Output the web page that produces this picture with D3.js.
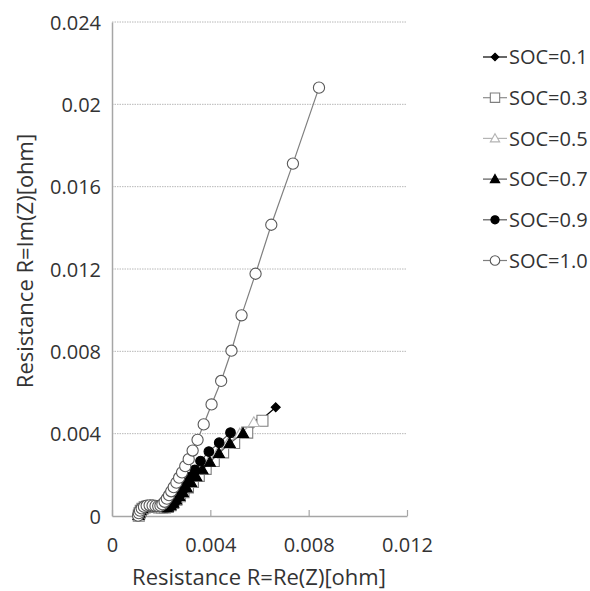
<!DOCTYPE html>
<html>
<head>
<meta charset="utf-8">
<script src="https://cdn.jsdelivr.net/npm/d3@7"></script>
<style>
  body { margin: 0; background: #fff; }
  text { font-family: "Open Sans", "Noto Sans", sans-serif; fill: #333; }
</style>
</head>
<body>
<svg id="chart" width="590" height="591"></svg>
<script>
// Nyquist data: [Re(Z), Im(Z)] in ohm
var soc01 = [[0.00110,0.00001],[0.00113,0.00012],[0.00118,0.00024],[0.00125,0.00034],[0.00134,0.00041],[0.00145,0.00045],[0.00157,0.00046],[0.00169,0.00045],[0.00181,0.00043],[0.00193,0.00041],[0.00205,0.00040],[0.00216,0.00040],[0.00227,0.00045],[0.00238,0.00053],[0.00249,0.00065],[0.00262,0.00080],[0.00276,0.00097],[0.00291,0.00117],[0.00309,0.00140],[0.00329,0.00166],[0.00353,0.00196],[0.00381,0.00230],[0.00414,0.00268],[0.00452,0.00310],[0.00497,0.00356],[0.00548,0.00407],[0.00605,0.00465],[0.00666,0.00528]];
var soc03 = [[0.00109,0.00002],[0.00112,0.00013],[0.00117,0.00025],[0.00124,0.00035],[0.00133,0.00042],[0.00144,0.00046],[0.00156,0.00047],[0.00168,0.00046],[0.00180,0.00044],[0.00192,0.00042],[0.00204,0.00041],[0.00216,0.00041],[0.00227,0.00044],[0.00238,0.00052],[0.00249,0.00064],[0.00262,0.00079],[0.00276,0.00096],[0.00291,0.00116],[0.00309,0.00139],[0.00329,0.00165],[0.00353,0.00195],[0.00381,0.00229],[0.00414,0.00267],[0.00452,0.00309],[0.00497,0.00355],[0.00550,0.00405],[0.00612,0.00463]];
var soc05 = [[0.00108,0.00002],[0.00111,0.00013],[0.00116,0.00025],[0.00123,0.00036],[0.00132,0.00043],[0.00143,0.00047],[0.00155,0.00048],[0.00167,0.00047],[0.00179,0.00045],[0.00191,0.00043],[0.00202,0.00042],[0.00213,0.00042],[0.00222,0.00043],[0.00232,0.00050],[0.00243,0.00062],[0.00255,0.00077],[0.00268,0.00094],[0.00282,0.00114],[0.00298,0.00136],[0.00316,0.00162],[0.00337,0.00191],[0.00362,0.00224],[0.00392,0.00261],[0.00428,0.00303],[0.00470,0.00350],[0.00520,0.00400],[0.00577,0.00455]];
var soc07 = [[0.00108,0.00003],[0.00111,0.00014],[0.00116,0.00026],[0.00123,0.00036],[0.00132,0.00044],[0.00143,0.00048],[0.00155,0.00049],[0.00167,0.00048],[0.00179,0.00046],[0.00190,0.00044],[0.00201,0.00043],[0.00211,0.00042],[0.00219,0.00042],[0.00227,0.00043],[0.00238,0.00051],[0.00249,0.00063],[0.00261,0.00078],[0.00274,0.00095],[0.00288,0.00115],[0.00304,0.00137],[0.00322,0.00163],[0.00343,0.00192],[0.00368,0.00225],[0.00398,0.00262],[0.00435,0.00305],[0.00479,0.00353],[0.00533,0.00402]];
var soc09 = [[0.00107,0.00003],[0.00110,0.00015],[0.00115,0.00027],[0.00122,0.00037],[0.00131,0.00045],[0.00142,0.00049],[0.00154,0.00050],[0.00166,0.00049],[0.00178,0.00047],[0.00190,0.00045],[0.00201,0.00044],[0.00212,0.00043],[0.00222,0.00043],[0.00232,0.00044],[0.00241,0.00050],[0.00250,0.00060],[0.00259,0.00073],[0.00269,0.00090],[0.00280,0.00110],[0.00292,0.00133],[0.00305,0.00160],[0.00320,0.00190],[0.00337,0.00224],[0.00360,0.00267],[0.00394,0.00313],[0.00436,0.00356],[0.00482,0.00405]];
var soc10 = [[0.00106,0.00002],[0.00109,0.00014],[0.00114,0.00026],[0.00121,0.00037],[0.00130,0.00045],[0.00141,0.00050],[0.00153,0.00052],[0.00165,0.00051],[0.00177,0.00049],[0.00188,0.00048],[0.00197,0.00050],[0.00205,0.00057],[0.00214,0.00069],[0.00223,0.00084],[0.00232,0.00101],[0.00241,0.00120],[0.00251,0.00140],[0.00262,0.00162],[0.00273,0.00186],[0.00285,0.00212],[0.00298,0.00242],[0.00312,0.00276],[0.00328,0.00318],[0.00348,0.00370],[0.00373,0.00445],[0.00405,0.00542],[0.00444,0.00656],[0.00486,0.00803],[0.00527,0.00975],[0.00584,0.01177],[0.00648,0.01415],[0.00736,0.01712],[0.00842,0.02081]];

var seriesNames = ["SOC=0.1", "SOC=0.3", "SOC=0.5", "SOC=0.7", "SOC=0.9", "SOC=1.0"];
var seriesData = [soc01, soc03, soc05, soc07, soc09, soc10];

var xTicks = [0, 0.004, 0.008, 0.012];
var xTickLabels = ["0", "0.004", "0.008", "0.012"];
var yTicks = [0, 0.004, 0.008, 0.012, 0.016, 0.02, 0.024];
var yTickLabels = ["0", "0.004", "0.008", "0.012", "0.016", "0.02", "0.024"];

// marker look per series
var styles = [
  { shape: "diamond",  r: 4.5, fill: "#000", stroke: "#000",    line: "#000" },
  { shape: "square",   r: 5.5, fill: "#fff", stroke: "#7f7f7f", line: "#8c8c8c" },
  { shape: "triangle", r: 5.5, fill: "#fff", stroke: "#b4b4b4", line: "#b4b4b4" },
  { shape: "triangle", r: 5.5, fill: "#000", stroke: "#000",    line: "#595959" },
  { shape: "circle",   r: 4.8, fill: "#000", stroke: "#000",    line: "#595959" },
  { shape: "circle",   r: 5.6, fill: "#fff", stroke: "#595959", line: "#7f7f7f" }
];

function markerPath(shape, r) {
  if (shape === "diamond") return "M0," + (-r) + "L" + r + ",0L0," + r + "L" + (-r) + ",0Z";
  if (shape === "square") return "M" + (-r) + "," + (-r) + "H" + r + "V" + r + "H" + (-r) + "Z";
  if (shape === "triangle") return "M0," + (-r) + "L" + r + "," + (r * 0.75) + "L" + (-r) + "," + (r * 0.75) + "Z";
  return circlePath(r);
}
function circlePath(r) {
  var p = d3.path();
  p.arc(0, 0, r, 0, 2 * Math.PI);
  p.closePath();
  return p.toString();
}

var svg = d3.select("#chart");

var x = d3.scaleLinear().domain([0, 0.012]).range([112, 407]);
var y = d3.scaleLinear().domain([0, 0.024]).range([516, 22]);

// gridlines
svg.append("g")
   .selectAll("line")
   .data(yTicks.slice(1))
   .enter()
   .append("line")
     .attr("x1", x(0))
     .attr("x2", x(0.012))
     .attr("y1", d => y(d))
     .attr("y2", d => y(d))
     .attr("stroke", "#b8b8b8")
     .attr("stroke-width", 1)
     .attr("stroke-dasharray", "1.5,1");

// axes
var xAxis = svg.append("g")
   .attr("transform", "translate(0," + y(0) + ")")
   .call(d3.axisBottom(x)
           .tickValues(xTicks)
           .tickFormat((d, i) => xTickLabels[i])
           .tickSize(-6)
           .tickSizeOuter(0)
           .tickPadding(22));

var yAxis = svg.append("g")
   .attr("transform", "translate(" + x(0) + ",0)")
   .call(d3.axisLeft(y)
           .tickValues(yTicks)
           .tickFormat((d, i) => yTickLabels[i])
           .tickSize(0)
           .tickPadding(11));

[xAxis, yAxis].forEach(function(ax) {
  ax.select(".domain").attr("stroke", "#a6a6a6").attr("stroke-width", 1.5);
  ax.selectAll(".tick line").attr("stroke", "#a6a6a6").attr("stroke-width", 1.2);
  ax.selectAll("text")
    .attr("font-size", "20px")
    .attr("font-family", "'Open Sans', sans-serif")
    .attr("fill", "#333");
});
yAxis.selectAll(".tick text").attr("dy", "0.36em");

// axis titles
svg.append("text")
   .attr("x", 259)
   .attr("y", 585)
   .attr("font-size", "22px")
   .style("text-anchor", "middle")
   .text("Resistance R=Re(Z)[ohm]");

svg.append("text")
   .attr("transform", "translate(33,261) rotate(-90)")
   .attr("font-size", "22px")
   .style("text-anchor", "middle")
   .text("Resistance R=Im(Z)[ohm]");

// series
var line = d3.line()
             .x(d => x(d[0]))
             .y(d => y(d[1]));

seriesData.forEach(function(data, i) {
  var st = styles[i];
  var g = svg.append("g").classed("series", true);

  g.append("path")
   .attr("d", line(data))
   .attr("fill", "none")
   .attr("stroke", st.line)
   .attr("stroke-width", 1.2);

  g.selectAll(".pt")
   .data(data)
   .enter()
   .append("path")
     .classed("pt", true)
     .attr("transform", d => "translate(" + x(d[0]) + "," + y(d[1]) + ")")
     .attr("d", markerPath(st.shape, st.r))
     .attr("fill", st.fill)
     .attr("stroke", st.stroke)
     .attr("stroke-width", 1.1);
});

// legend
var legend = svg.append("g")
   .attr("transform", "translate(483, 57)");

var item = legend.selectAll(".legend-item")
   .data(seriesNames)
   .enter()
   .append("g")
     .classed("legend-item", true)
     .attr("transform", (d, i) => "translate(0," + (i * 40.7) + ")");

item.append("line")
    .attr("x1", 0)
    .attr("x2", 24)
    .attr("stroke", (d, i) => styles[i].line)
    .attr("stroke-width", 1.2);

item.append("path")
    .attr("transform", "translate(12,0)")
    .attr("d", (d, i) => markerPath(styles[i].shape, styles[i].r * 0.85))
    .attr("fill", (d, i) => styles[i].fill)
    .attr("stroke", (d, i) => styles[i].stroke)
    .attr("stroke-width", 1.1);

item.append("text")
    .attr("x", 26)
    .attr("y", 0)
    .attr("dy", "0.36em")
    .attr("font-size", "20px")
    .text(d => d);
</script>
</body>
</html>
